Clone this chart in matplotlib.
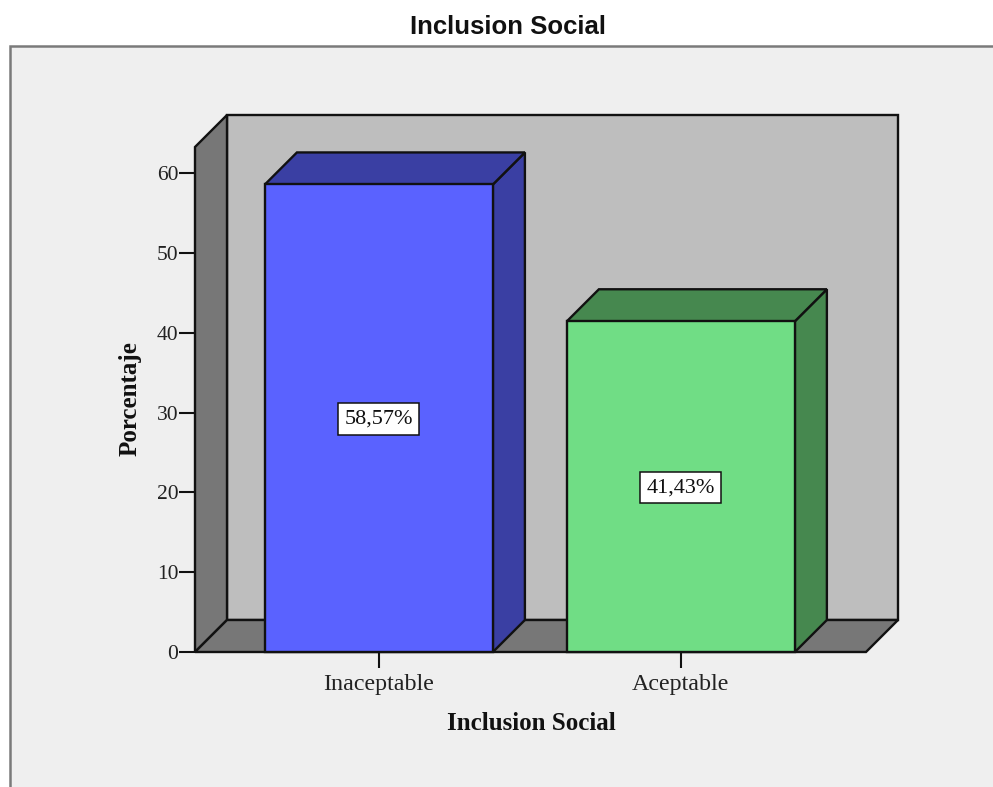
import matplotlib
matplotlib.use("Agg")
import matplotlib.pyplot as plt
from matplotlib.patches import Polygon, Rectangle

categorias = ["Inaceptable", "Aceptable"]
porcentajes = [58.57, 41.43]
etiquetas = ["58,57%", "41,43%"]
ticks_y = [0, 10, 20, 30, 40, 50, 60]

ANCHO_FIG = 993
ALTO_FIG = 787

# caja del eje en pixeles (cara frontal)
IZQ, DER, ARRIBA, ABAJO = 195, 866, 147, 652

# escala de los ejes
X_MIN, X_MAX = -0.609, 1.613
Y_MIN, Y_MAX = 0, 63.26
ANCHO_BARRA = 0.755
# profundidad del efecto 3D en unidades de datos
PROF_X = 32 / ((DER - IZQ) / (X_MAX - X_MIN))
PROF_Y = 32 / ((ABAJO - ARRIBA) / (Y_MAX - Y_MIN))

COLORES = ["#5A62FF", "#70DD85"]
COLORES_TAPA = ["#3A3FA3", "#46884F"]
GRIS_PARED = "#BEBEBE"
GRIS_OSCURO = "#777777"
FONDO = "#EFEFEF"
BORDE = "#111111"

SERIF = "Liberation Serif"

fig = plt.figure(figsize=(ANCHO_FIG / 100, ALTO_FIG / 100), dpi=100, facecolor="white")

# panel gris de fondo con borde arriba y a la izquierda
panel = Rectangle((10 / ANCHO_FIG, -0.01), 1.0, 1.01 - 46 / ALTO_FIG, transform=fig.transFigure,
                  facecolor=FONDO, edgecolor="#7A7A7A", linewidth=1.8, zorder=-1)
fig.add_artist(panel)
fig.text(508 / ANCHO_FIG, 1 - 27.5 / ALTO_FIG, "Inclusion Social", ha="center", va="center",
         fontsize=18.5, fontweight="bold", family="Liberation Sans", color="#111111")

ax = fig.add_axes([IZQ / ANCHO_FIG, 1 - ABAJO / ALTO_FIG,
                   (DER - IZQ) / ANCHO_FIG, (ABAJO - ARRIBA) / ALTO_FIG])
ax.set_xlim(X_MIN, X_MAX)
ax.set_ylim(Y_MIN, Y_MAX)
ax.patch.set_visible(False)
for lado in ax.spines.values():
    lado.set_visible(False)


def cara(puntos, color, z):
    ax.add_patch(Polygon(puntos, closed=True, facecolor=color, edgecolor=BORDE,
                         linewidth=1.7, joinstyle="miter", clip_on=False, zorder=z))


# paredes y piso
cara([(X_MIN + PROF_X, PROF_Y), (X_MAX + PROF_X, PROF_Y),
      (X_MAX + PROF_X, Y_MAX + PROF_Y), (X_MIN + PROF_X, Y_MAX + PROF_Y)], GRIS_PARED, 1)
cara([(X_MIN, 0), (X_MIN, Y_MAX), (X_MIN + PROF_X, Y_MAX + PROF_Y), (X_MIN + PROF_X, PROF_Y)],
     GRIS_OSCURO, 1)
cara([(X_MIN, 0), (X_MAX, 0), (X_MAX + PROF_X, PROF_Y), (X_MIN + PROF_X, PROF_Y)],
     GRIS_OSCURO, 1)

# barras: lateral, tapa y frente
for i, valor in enumerate(porcentajes):
    x0 = i - ANCHO_BARRA / 2
    x1 = i + ANCHO_BARRA / 2
    cara([(x1, 0), (x1 + PROF_X, PROF_Y), (x1 + PROF_X, valor + PROF_Y), (x1, valor)],
         COLORES_TAPA[i], 2)
    cara([(x0, valor), (x1, valor), (x1 + PROF_X, valor + PROF_Y), (x0 + PROF_X, valor + PROF_Y)],
         COLORES_TAPA[i], 2)
    ax.bar(i, valor, width=ANCHO_BARRA, color=COLORES[i], edgecolor=BORDE, linewidth=1.7,
           clip_on=False, zorder=3)
    # la caja queda un poco por debajo de la mitad de la barra
    ax.annotate(etiquetas[i], (i, valor / 2), xytext=(0, -0.7), textcoords="offset points",
                ha="center", va="center", fontsize=16, family=SERIF, color="#111111", zorder=4,
                bbox=dict(boxstyle="square,pad=0.28", facecolor="white", edgecolor=BORDE,
                          linewidth=1.1))

ax.set_xticks(range(len(categorias)), categorias, family=SERIF, fontsize=17.3, color="#222222")
ax.set_yticks(ticks_y, [str(t) for t in ticks_y], family=SERIF, fontsize=15.5, color="#222222")
ax.tick_params(axis="x", length=11.5, width=1.5, color=BORDE, pad=4)
ax.tick_params(axis="y", length=11.5, width=1.5, color=BORDE, pad=0.5)

ax.set_xlabel("Inclusion Social", family=SERIF, fontsize=18, fontweight="bold", color="#111111")
ax.set_ylabel("Porcentaje", family=SERIF, fontsize=18, fontweight="bold", color="#111111")
ax.xaxis.set_label_coords((531 - IZQ) / (DER - IZQ), -(724 - ABAJO) / (ABAJO - ARRIBA))
ax.yaxis.set_label_coords((130 - IZQ) / (DER - IZQ), (ABAJO - 399) / (ABAJO - ARRIBA))
ax.xaxis.label.set_verticalalignment("center")
ax.yaxis.label.set_verticalalignment("center")

fig.savefig("out.png", dpi=100)
